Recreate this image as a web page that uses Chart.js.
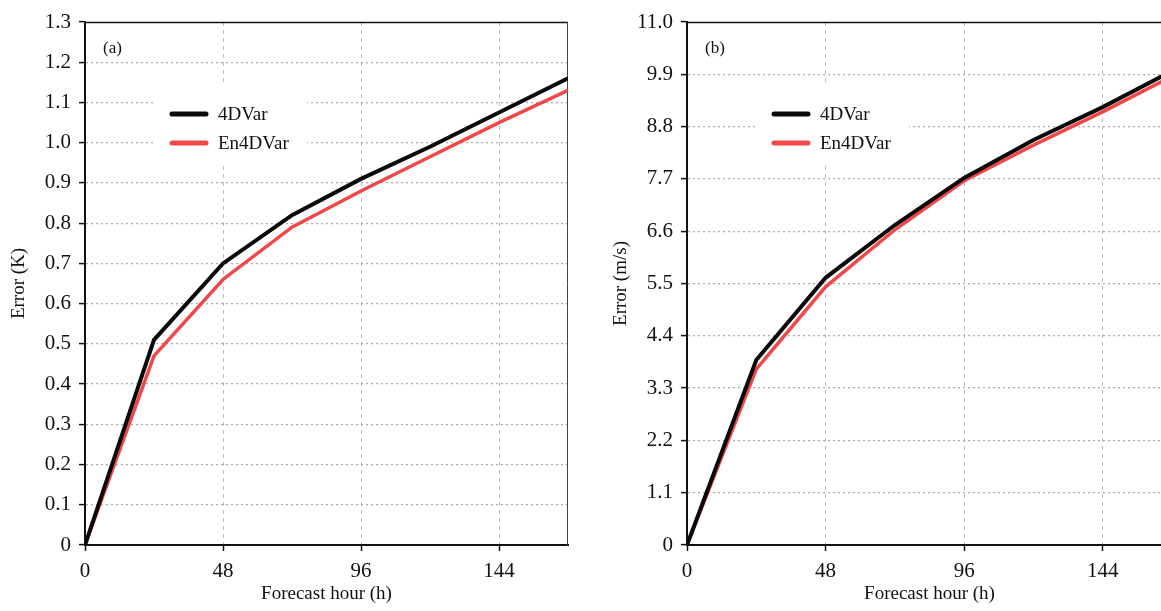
<!DOCTYPE html>
<html>
<head>
<meta charset="utf-8">
<script src="https://cdn.jsdelivr.net/npm/chart.js@4"></script>
<style>
	html, body { margin: 0; padding: 0; background: #fff; overflow: hidden; width: 1161px; height: 611px; }
	.panel { position: absolute; top: 0; height: 611px; }
	#panelA { left: 0; width: 590px; }
	#panelB { left: 600px; width: 600px; }
</style>
</head>
<body>
<div class="panel" id="panelA"><canvas id="chartA"></canvas></div>
<div class="panel" id="panelB"><canvas id="chartB"></canvas></div>
<script>
// forecast hours
const hours = [0, 24, 48, 72, 96, 120, 144, 168];

// (a) temperature error, K
const tempErr4DVar = [0, 0.51, 0.70, 0.82, 0.91, 0.99, 1.075, 1.16];
const tempErrEn4DVar = [0, 0.47, 0.66, 0.79, 0.88, 0.965, 1.05, 1.13];

// (b) wind error, m/s
const windErr4DVar = [0, 3.89, 5.62, 6.73, 7.72, 8.52, 9.21, 9.97];
const windErrEn4DVar = [0, 3.70, 5.43, 6.63, 7.66, 8.41, 9.11, 9.86];

const xTicks = [0, 48, 96, 144];

const FONT = "'Liberation Serif', 'Times New Roman', serif";

// frame, panel label and legend box drawn over the grid
const framePlugin = {
	id: 'frame',
	beforeDatasetsDraw(chart, args, opts) {
		const ctx = chart.ctx;
		const a = chart.chartArea;
		ctx.save();
		// top border
		ctx.strokeStyle = '#111';
		ctx.lineWidth = 1.5;
		ctx.beginPath();
		ctx.moveTo(a.left, a.top + 0.5);
		ctx.lineTo(a.right, a.top + 0.5);
		ctx.stroke();
		// right border
		ctx.strokeStyle = '#444';
		ctx.lineWidth = 1;
		ctx.beginPath();
		ctx.moveTo(a.right - 0.5, a.top);
		ctx.lineTo(a.right - 0.5, a.bottom);
		ctx.stroke();

		// panel letter
		ctx.fillStyle = '#111';
		ctx.font = '17px ' + FONT;
		ctx.textBaseline = 'middle';
		ctx.textAlign = 'left';
		ctx.fillText(opts.letter, a.left + 18, a.top + 27);

		// legend box (white, hides grid lines behind it)
		ctx.fillStyle = '#fff';
		ctx.fillRect(a.left + 71, a.top + 60, 151, 82);
		ctx.font = '19px ' + FONT;
		chart.data.datasets.forEach((ds, i) => {
			const y = a.top + 92 + i * 29;
			ctx.strokeStyle = ds.borderColor;
			ctx.lineWidth = 5;
			ctx.lineCap = 'round';
			ctx.beginPath();
			ctx.moveTo(a.left + 87, y);
			ctx.lineTo(a.left + 121, y);
			ctx.stroke();
			ctx.fillStyle = '#111';
			ctx.fillText(ds.label, a.left + 133, y + 1);
		});
		ctx.restore();
	}
};

function makeChart(id, s1, s2, yMax, yStep, yTitle, letter, yWidth, rightPad, titlePad) {
	return new Chart(document.getElementById(id), {
		type: 'line',
		data: {
			labels: hours,
			datasets: [{
				label: '4DVar',
				data: hours.map((h, i) => ({ x: h, y: s1[i] })),
				borderColor: '#0a0a0a',
				borderWidth: 4,
				pointRadius: 0,
				tension: 0
			}, {
				label: 'En4DVar',
				data: hours.map((h, i) => ({ x: h, y: s2[i] })),
				borderColor: '#f04848',
				borderWidth: 3.5,
				pointRadius: 0,
				tension: 0
			}]
		},
		options: {
			responsive: true,
			maintainAspectRatio: false,
			animation: false,
			layout: { padding: { top: 22, right: rightPad, left: 0, bottom: 0 } },
			plugins: {
				legend: { display: false },
				tooltip: { enabled: false },
				frame: { letter: letter }
			},
			scales: {
				x: {
					type: 'linear',
					min: 0,
					max: 168,
					afterBuildTicks: scale => {
						scale.ticks = xTicks.map(v => ({ value: v }));
					},
					afterFit: scale => { scale.height = 66; },
					ticks: {
						color: '#111',
						font: { family: FONT, size: 21 },
						padding: 8,
						maxRotation: 0
					},
					grid: {
						color: c => (c.tick && (c.tick.value === 0)) ? 'rgba(0,0,0,0)' : '#bcbcbc',
						lineWidth: 1,
						tickLength: 6,
						tickColor: '#111',
						tickBorderDash: [],
						tickWidth: 1.5
					},
					border: { display: true, color: '#111', width: 2, dash: [4, 4] },
					title: {
						display: true,
						text: 'Forecast hour (h)',
						color: '#111',
						font: { family: FONT, size: 19 },
						padding: { top: 0, bottom: 6 }
					}
				},
				y: {
					min: 0,
					max: yMax,
					afterFit: scale => { scale.width = yWidth; },
					ticks: {
						stepSize: yStep,
						color: '#111',
						font: { family: FONT, size: 21 },
						padding: 8,
						callback: v => (Math.abs(v) < 1e-9 ? '0' : v.toFixed(1))
					},
					grid: {
						color: c => (c.tick && (Math.abs(c.tick.value) < 1e-9 || Math.abs(c.tick.value - yMax) < 1e-6)) ? 'rgba(0,0,0,0)' : '#ababab',
						lineWidth: 1.2,
						tickLength: 6,
						tickColor: '#111',
						tickBorderDash: [],
						tickWidth: 1.5
					},
					border: { display: true, color: '#111', width: 2, dash: [2, 3] },
					title: {
						display: true,
						text: yTitle,
						color: '#111',
						font: { family: FONT, size: 19 },
						padding: { top: titlePad, bottom: 0 }
					}
				}
			}
		},
		plugins: [framePlugin]
	});
}

makeChart('chartA', tempErr4DVar, tempErrEn4DVar, 1.3, 0.1, 'Error (K)', '(a)', 85, 22, 8);
makeChart('chartB', windErr4DVar, windErrEn4DVar, 11.0, 1.1, 'Error (m/s)', '(b)', 87, 28, 10);
</script>
</body>
</html>
